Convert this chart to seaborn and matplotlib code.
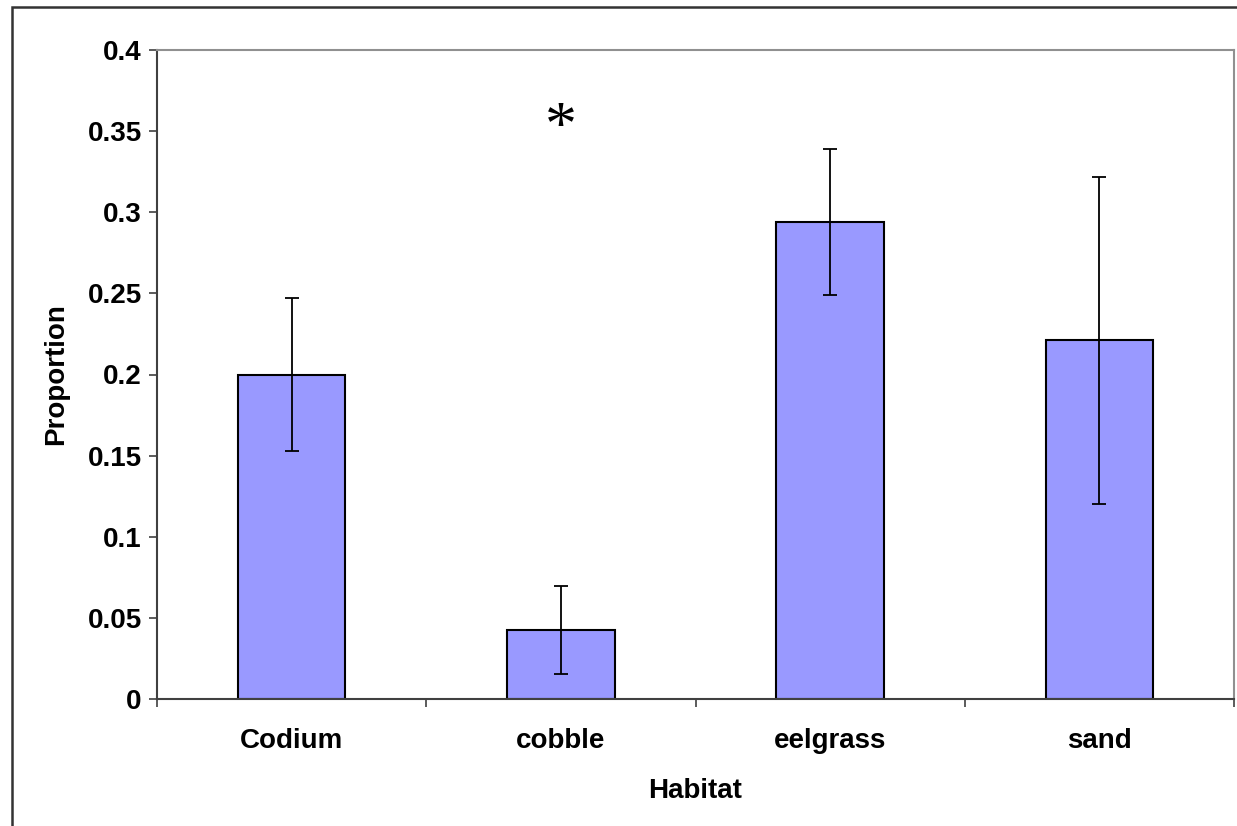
import matplotlib
matplotlib.use("Agg")
import matplotlib.pyplot as plt
import matplotlib.patches as mpatches
import seaborn as sns
import pandas as pd
import numpy as np

habitats = ["Codium", "cobble", "eelgrass", "sand"]
proportion = [0.200, 0.0425, 0.294, 0.221]
std_err = [0.047, 0.027, 0.045, 0.101]
yticks = [0, 0.05, 0.1, 0.15, 0.2, 0.25, 0.3, 0.35, 0.4]
ytick_labels = ["0", "0.05", "0.1", "0.15", "0.2", "0.25", "0.3", "0.35", "0.4"]
annotation = "*"
annot_cat = "cobble"
annot_y = 0.351

sns.set_theme(style="white")
plt.rcParams['font.family'] = ['Liberation Sans', 'DejaVu Sans']
plt.rcParams['font.weight'] = 'bold'
plt.rcParams['text.color'] = 'black'
plt.rcParams['axes.labelcolor'] = 'black'
plt.rcParams['xtick.labelcolor'] = 'black'
plt.rcParams['ytick.labelcolor'] = 'black'

df = pd.DataFrame({"Habitat": habitats, "Proportion": proportion})

fig = plt.figure(figsize=(12.37, 8.26), dpi=100)
ax = fig.add_axes([157/1237, 1 - 699/826, (1234 - 157)/1237, (699 - 50)/826])

sns.barplot(data=df, x="Habitat", y="Proportion", color="#9999FF", saturation=1,
            edgecolor="black", linewidth=1.5, width=0.4, errorbar=None, ax=ax)
ax.errorbar(np.arange(len(habitats)), proportion, yerr=std_err, fmt="none",
            ecolor="black", elinewidth=1.3, capsize=5, capthick=1.3, zorder=5)

ax.text(habitats.index(annot_cat), annot_y, annotation, ha="center", va="center",
        fontsize=46, fontfamily="Liberation Serif", fontweight="normal", color="black")

ax.set_xlim(-0.5, len(habitats) - 0.5)
ax.set_ylim(0, 0.4)
ax.set_yticks(yticks)
ax.set_yticklabels(ytick_labels, fontsize=20, fontweight="bold", color="black")

ax.set_xticks(np.arange(-0.5, len(habitats), 1.0))
ax.set_xticklabels([])
ax.set_xticks(np.arange(len(habitats)), minor=True)
ax.set_xticklabels(habitats, minor=True, fontsize=20, fontweight="bold", color="black")
ax.tick_params(axis="x", which="major", direction="out", length=6, width=1.2,
               color="#404040", bottom=True)
ax.tick_params(axis="x", which="minor", length=0, pad=21, bottom=True)
ax.tick_params(axis="y", direction="out", length=6, width=1.2, color="#404040",
               pad=5, left=True)

ax.set_xlabel("Habitat", fontsize=20, fontweight="bold", labelpad=17, color="black")
ax.set_ylabel("Proportion", fontsize=20, fontweight="bold", labelpad=13, color="black")

for side in ["left", "bottom"]:
    ax.spines[side].set_color("#404040")
    ax.spines[side].set_linewidth(1.5)
for side in ["top", "right"]:
    ax.spines[side].set_color("#909090")
    ax.spines[side].set_linewidth(1.5)
    ax.spines[side].set_visible(True)

border = mpatches.Rectangle((12/1237, -0.05), 1.2, (826 - 7)/826 + 0.05,
                            transform=fig.transFigure, fill=False,
                            edgecolor="#333333", linewidth=1.8, zorder=10)
fig.patches.append(border)

fig.savefig("out.png", dpi=100, facecolor="white")
